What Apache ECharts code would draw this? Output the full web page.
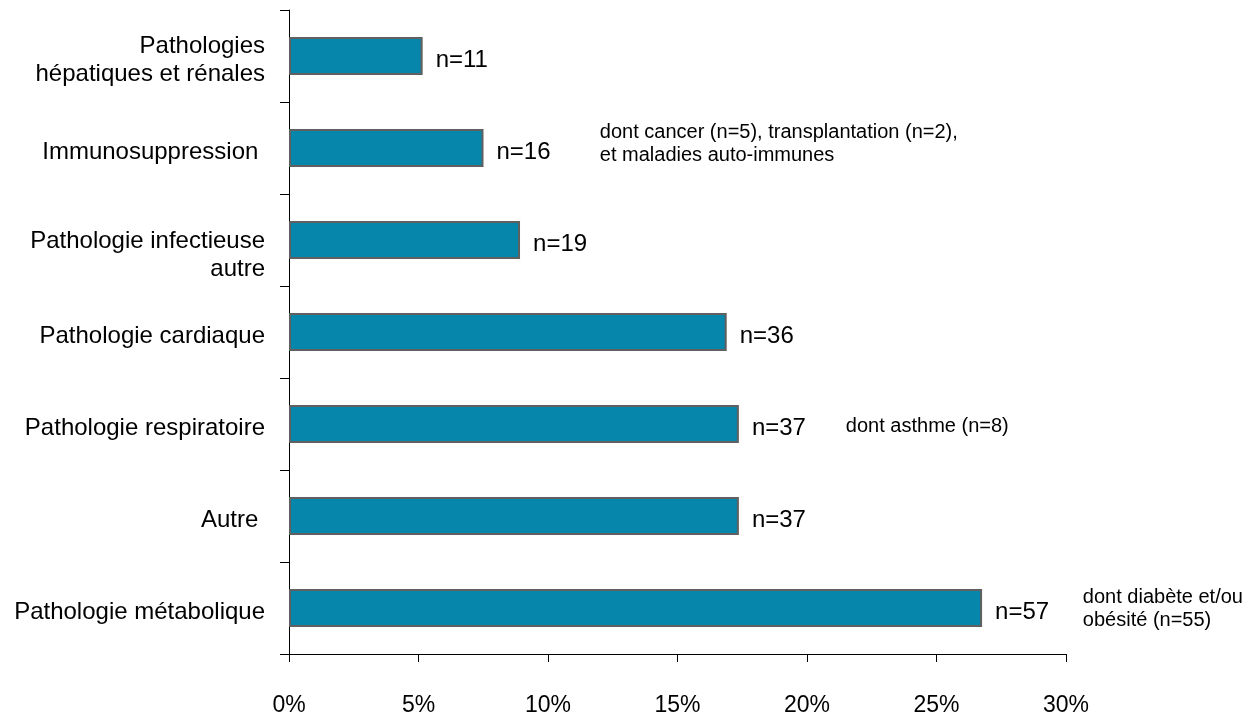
<!DOCTYPE html>
<html>
<head>
<meta charset="utf-8">
<script src="https://cdn.jsdelivr.net/npm/echarts@6/dist/echarts.min.js"></script>
<style>
  html, body { margin: 0; padding: 0; background: #fff; }
  #chart { width: 1257px; height: 717px; }
</style>
</head>
<body>
<div id="chart"></div>
<script>
// Comorbidity categories, listed from top to bottom
var categories = [
  'Pathologies\nhépatiques et rénales',
  'Immunosuppression ',
  'Pathologie infectieuse\nautre',
  'Pathologie cardiaque',
  'Pathologie respiratoire',
  'Autre ',
  'Pathologie métabolique'
];

// Share of patients (%) and number of patients per category
var percents = [5.16, 7.51, 8.92, 16.90, 17.37, 17.37, 26.76];
var counts = [11, 16, 19, 36, 37, 37, 57];

// Value axis ticks
var xMin = 0, xMax = 30, xStep = 5;

// Detail notes attached to some categories
var notes = [
  { category: 1, text: 'dont cancer (n=5), transplantation (n=2),\net maladies auto-immunes' },
  { category: 4, text: 'dont asthme (n=8)' },
  { category: 6, text: 'dont diabète et/ou\nobésité (n=55)' }
];

// Where each note sits along the value axis (in % units) and its vertical nudge
var noteAnchor = [12.0, 21.5, 30.65];
var noteNudge = [-4, 2, 1];

var FONT = '"Liberation Sans", Arial, sans-serif';
var INK = '#000000';

var noteData = notes.map(function (n, i) {
  return {
    value: [noteAnchor[i], categories[n.category]],
    label: { formatter: n.text, offset: [0, noteNudge[i]], color: INK, opacity: 1 }
  };
});

// Each category line becomes a rich token so the text can sit slightly low in its line box;
// the infectious-disease label hangs a little lower than the others
var LOW_LABEL = 2;
function categoryLabel(v, idx) {
  var token = idx === LOW_LABEL ? 'd' : 'c';
  return v.split('\n').map(function (line) { return '{' + token + '|' + line + '}'; }).join('\n');
}

var labelBase = {
  color: INK,
  fontFamily: FONT,
  fontSize: 24,
  lineHeight: 28,
  align: 'right'
};

var chart = echarts.init(document.getElementById('chart'), null, { renderer: 'canvas' });

chart.setOption({
  backgroundColor: '#ffffff',
  animation: false,
  grid: { left: 289, right: 191, top: 10, bottom: 63, containLabel: false },
  xAxis: {
    type: 'value',
    min: xMin,
    max: xMax,
    interval: xStep,
    axisLine: { show: true, lineStyle: { color: INK, width: 1 } },
    axisTick: { show: true, length: 8, lineStyle: { color: INK } },
    splitLine: { show: false },
    axisLabel: {
      formatter: '{value}%',
      color: INK,
      fontFamily: FONT,
      fontSize: 23,
      margin: 40
    }
  },
  yAxis: {
    type: 'category',
    inverse: true,
    data: categories,
    axisLine: { show: true, lineStyle: { color: INK, width: 1 } },
    axisTick: { show: true, length: 9, lineStyle: { color: INK } },
    axisLabel: {
      margin: 24,
      align: 'right',
      formatter: categoryLabel,
      rich: {
        c: Object.assign({ padding: [9, 0, 0, 0] }, labelBase),
        d: Object.assign({ padding: [31, 0, 0, 0] }, labelBase)
      }
    }
  },
  series: [
    {
      type: 'bar',
      data: percents,
      barWidth: 38,
      itemStyle: {
        color: '#0786AB',
        borderColor: '#606060',
        borderWidth: 2
      },
      label: {
        show: true,
        position: 'right',
        distance: 13,
        offset: [0, 4],
        color: INK,
        fontFamily: FONT,
        fontSize: 24,
        formatter: function (p) { return 'n=' + counts[p.dataIndex]; }
      }
    },
    {
      type: 'scatter',
      data: noteData,
      symbolSize: 0,
      clip: false,
      silent: true,
      itemStyle: { opacity: 1 },
      label: {
        show: true,
        position: 'right',
        distance: 0,
        align: 'left',
        verticalAlign: 'middle',
        color: INK,
        opacity: 1,
        fontFamily: FONT,
        fontSize: 20,
        lineHeight: 23
      }
    }
  ]
});
</script>
</body>
</html>
